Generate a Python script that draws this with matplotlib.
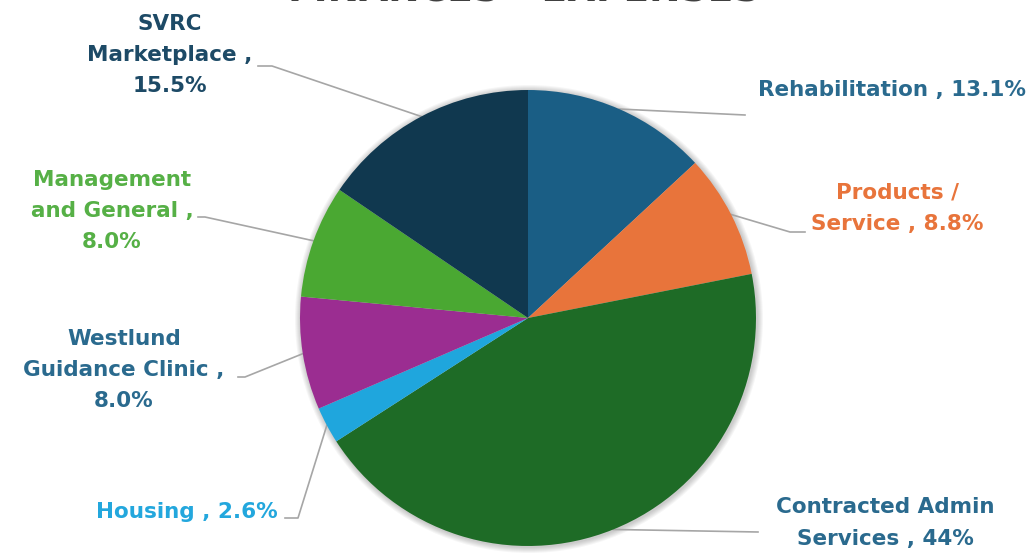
import matplotlib.pyplot as plt
import numpy as np

# dados
categorias = ["Rehabilitation", "Products /\nService", "Contracted Admin\nServices",
              "Housing", "Westlund\nGuidance Clinic", "Management\nand General",
              "SVRC\nMarketplace"]
rotulos = ["Rehabilitation , 13.1%", "Products /\nService , 8.8%",
           "Contracted Admin\nServices , 44%", "Housing , 2.6%",
           "Westlund\nGuidance Clinic ,\n8.0%", "Management\nand General ,\n8.0%",
           "SVRC\nMarketplace ,\n15.5%"]
valores = [13.1, 8.8, 44.0, 2.6, 8.0, 8.0, 15.5]
cores = ["#1a5e85", "#e8743b", "#1e6b26", "#1fa6dd", "#9b2d91", "#4aa832", "#10384f"]
cores_texto = ["#2a6a8e", "#e8743b", "#2a6a8e", "#23a7dd", "#2a6a8e", "#56b046", "#1d4a66"]

W, H = 1035, 554
fig = plt.figure(figsize=(W / 100, H / 100), dpi=100)
ax = fig.add_axes([0, 0, 1, 1])

cx, cy, r = 528, H - 318, 228

# sombra suave em volta da pizza
for k in range(1, 7):
    ax.add_patch(plt.Circle((cx + 1, cy - 1), r + k, color="black",
                            alpha=0.035, lw=0, zorder=0))

wedges, _ = ax.pie(valores, colors=cores, startangle=90, counterclock=False,
                   center=(cx, cy), radius=r, frame=True,
                   wedgeprops=dict(edgecolor="none", linewidth=0))
ax.set_xlim(0, W)
ax.set_ylim(0, H)
ax.set_aspect("equal")
ax.axis("off")

# posicao dos rotulos (pixel, topo = 0) e fim da linha guia
pos_texto = [(758, 90, "left"), (897, 208, "center"), (885, 523, "center"),
             (278, 512, "right"), (124, 370, "center"), (112, 211, "center"),
             (170, 55, "center")]
pos_guia = [[(745, 115)], [(790, 232), (805, 232)], [(758, 532)],
            [(298, 518), (285, 518)], [(245, 377), (238, 377)],
            [(205, 217), (198, 217)], [(272, 66), (258, 66)]]

for w, txt, cor, (tx, ty, ha), guia in zip(wedges, rotulos, cores_texto, pos_texto, pos_guia):
    ang = np.deg2rad((w.theta1 + w.theta2) / 2)
    x0, y0 = cx + r * np.cos(ang), cy + r * np.sin(ang)
    xs = [x0] + [p[0] for p in guia]
    ys = [y0] + [H - p[1] for p in guia]
    ax.plot(xs, ys, color="#a6a6a6", lw=1.2, zorder=0.5)
    ax.text(tx, H - ty, txt, ha=ha, va="center", color=cor, fontsize=15.5,
            fontweight="bold", family="DejaVu Sans", linespacing=1.7,
            multialignment="center")

ax.text(524, H - 1, "FINANCES - EXPENSES", ha="center", va="baseline",
        color="#404040", fontsize=27, fontweight="bold", family="DejaVu Sans")

fig.savefig("out.png", dpi=100)
